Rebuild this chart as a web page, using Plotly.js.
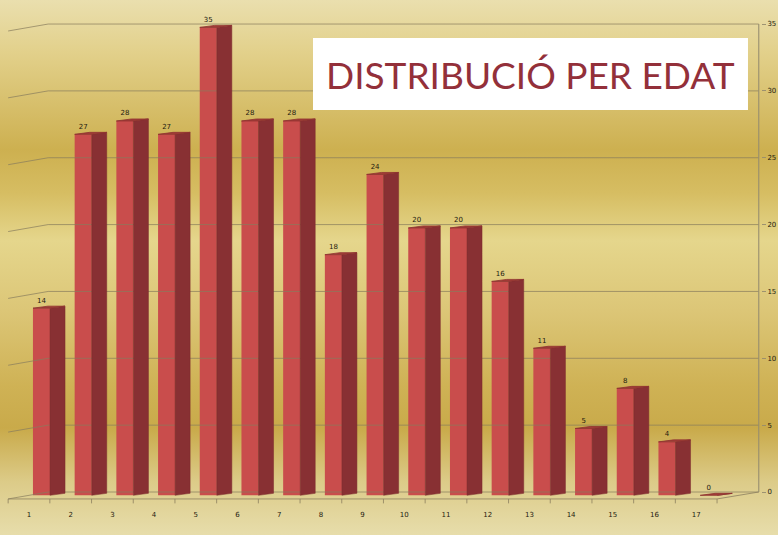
<!DOCTYPE html>
<html>
<head>
<meta charset="utf-8">
<script src="https://cdn.plot.ly/plotly-3.0.1.min.js"></script>
<style>
  html, body { margin:0; padding:0; }
  body { width:778px; height:535px; overflow:hidden;
    background: linear-gradient(to bottom, #eadfae 0%, #e2d08a 10%, #cdb050 28%, #d6bd62 36%, #e5d68c 45%, #dcc677 58%, #cfb255 72%, #c9aa4a 80%, #dccb88 90%, #e7ddab 100%); }
  #chart { width:778px; height:535px; }
</style>
</head>
<body>
<div id="chart"></div>
<script>
// ---- data ----
const categories = ["1","2","3","4","5","6","7","8","9","10","11","12","13","14","15","16","17"];
const values = [14, 27, 28, 27, 35, 28, 28, 18, 24, 20, 20, 16, 11, 5, 8, 4, 0];
const yTicks = [0, 5, 10, 15, 20, 25, 30, 35];
const titleText = "DISTRIBUCIÓ PER EDAT";

// ---- geometry helpers (style, not data) ----
const pos = categories.map((c, i) => i + 1);
const base = -0.25, depthY = 0.15;
const fL = 0.096, fR = 0.504, sR = 0.864, tBL = 0.456;

// front faces
const frontTrace = {
  type: 'bar', x: pos.map(p => p + 0.3), y: values, base: values.map(() => base),
  width: 0.41, marker: { color: '#c94d4c', line: { width: 0 } }, hoverinfo: 'skip'
};

// side faces
const sx = [], sy = [];
pos.forEach((p, i) => {
  const v = values[i];
  sx.push(p + fR, p + sR, p + sR, p + fR, p + fR, null);
  sy.push(base, base + depthY, v + base + depthY, v + base, base, null);
});
const sideTrace = { type: 'scatter', mode: 'lines', x: sx, y: sy, fill: 'toself',
  fillcolor: '#883033', line: { width: 0.5, color: '#7a2a2c' }, hoverinfo: 'skip' };

// top faces
const tx = [], ty = [];
pos.forEach((p, i) => {
  const v = values[i];
  tx.push(p + fL, p + fR, p + sR, p + tBL, p + fL, null);
  ty.push(v + base, v + base, v + base + depthY, v + base + depthY, v + base, null);
});
const topTrace = { type: 'scatter', mode: 'lines', x: tx, y: ty, fill: 'toself',
  fillcolor: '#a23c38', line: { width: 0.8, color: '#8e3230' }, hoverinfo: 'skip' };

// gridlines on back wall with sloped left stubs
const gx = [], gy = [];
yTicks.forEach(t => { gx.push(0.5, 1.46, 18.5, null); gy.push(t - 0.52, t, t, null); });
const gridTrace = { type: 'scatter', mode: 'lines', x: gx, y: gy,
  line: { width: 1, color: 'rgba(135,124,92,0.7)' }, hoverinfo: 'skip', cliponaxis: false };

// floor front edge + ticks
const fx = [0.5, 17.5, 18.5, null], fy = [-0.52, -0.52, 0, null];
for (let k = 0; k <= categories.length; k++) { fx.push(k + 0.5, k + 0.5, null); fy.push(-0.52, -0.85, null); }
const floorTrace = { type: 'scatter', mode: 'lines', x: fx, y: fy,
  line: { width: 1, color: 'rgba(140,128,95,0.8)' }, hoverinfo: 'skip', cliponaxis: false };

// right wall line
const wallTrace = { type: 'scatter', mode: 'lines', x: [18.5, 18.5], y: [0, 35],
  line: { width: 1.2, color: 'rgba(150,140,110,0.9)' }, hoverinfo: 'skip', cliponaxis: false };

// value labels
const labelTrace = { type: 'scatter', mode: 'text', x: pos.map(p => p + 0.3), y: values.map(v => v + 0.3),
  text: values.map(String), textposition: 'middle center',
  textfont: { family: 'DejaVu Sans', size: 7, color: '#1e1a10' }, hoverinfo: 'skip', cliponaxis: false };

const layout = {
  width: 778, height: 535,
  margin: { l: 0, r: 17, t: 10, b: 30 },
  paper_bgcolor: 'rgba(0,0,0,0)', plot_bgcolor: 'rgba(0,0,0,0)',
  showlegend: false,
  xaxis: { range: [0.30456, 18.554], tickvals: pos, ticktext: categories, ticks: '',
    showgrid: false, zeroline: false, showline: false, ticklabelstandoff: 4,
    tickfont: { family: 'DejaVu Sans', size: 7, color: '#1e1a10' } },
  yaxis: { range: [-0.9723, 36.05], side: 'right', tickvals: yTicks, ticks: 'outside', ticklen: 4,
    tickcolor: 'rgba(150,140,110,0.9)', showgrid: false, zeroline: false, showline: false,
    tickfont: { family: 'DejaVu Sans', size: 7, color: '#1e1a10' } },
  shapes: [{ type: 'rect', xref: 'paper', yref: 'paper', x0: 0.4113, x1: 0.9829, y0: 0.798, y1: 0.9434,
    fillcolor: '#ffffff', line: { width: 0 }, layer: 'above' }],
  annotations: [{ xref: 'paper', yref: 'paper', x: 0.6971, y: 0.8707, xanchor: 'center', yanchor: 'middle',
    text: titleText, showarrow: false, font: { family: 'Lato', size: 37, color: '#93303a' } }]
};

Plotly.newPlot('chart', [gridTrace, floorTrace, wallTrace, frontTrace, sideTrace, topTrace, labelTrace], layout, { displayModeBar: false, staticPlot: true });
</script>
</body>
</html>
